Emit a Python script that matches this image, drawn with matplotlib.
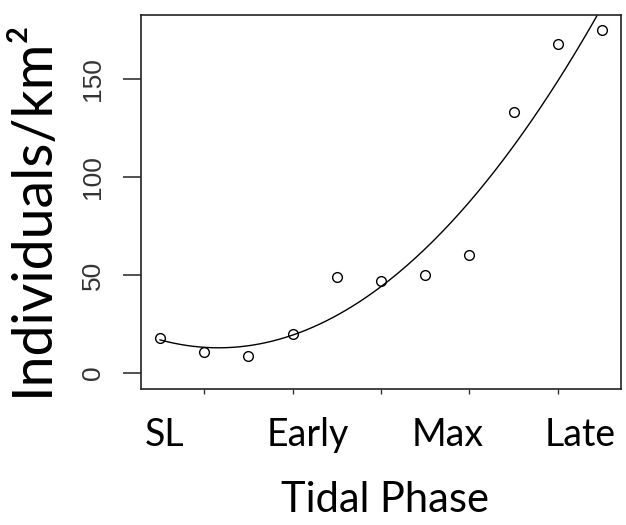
import numpy as np
import matplotlib
matplotlib.use('Agg')
import matplotlib.pyplot as plt

# Datos
phase = np.arange(1, 12)
density = [18, 10.5, 8.5, 20, 49, 47, 50, 60, 133, 168, 175]
phase_labels = ['SL', 'Early', 'Max', 'Late']
label_pos = [1.1, 4.35, 7.5, 10.5]

# Ajuste cuadratico
coef = np.polyfit(phase, density, 2)
xs = np.linspace(1, 11, 200)
ys = np.polyval(coef, xs)

fig = plt.figure(figsize=(6.26, 5.25), dpi=100)
ax = fig.add_axes([141 / 626, 1 - 389 / 525, 480 / 626, 374 / 525])

ax.plot(phase, density, 'o', mfc='none', mec='black', ms=7, mew=1.0)
ax.plot(xs, ys, color='black', lw=1.0)

ax.set_xlim(0.57, 11.43)
ax.set_ylim(-8.2, 182.7)
ax.set_xticks([2, 4, 6, 8, 10])
ax.set_xticklabels([])
ax.set_yticks([0, 50, 100, 150])
ax.set_yticklabels(['0', '50', '100', '150'], rotation=90, va='center',
                   fontsize=19, color='#333333', family='Liberation Sans')
ax.tick_params(axis='x', length=3.5, width=1.0, color='#333333')
ax.tick_params(axis='y', length=13, width=1.2, color='#333333', pad=13)
for s in ax.spines.values():
    s.set_linewidth(1.2)
    s.set_color('#222222')

# Etiquetas de fases
for lab, p in zip(phase_labels, label_pos):
    ax.text(p, -0.075, lab, transform=ax.get_xaxis_transform(), ha='center',
            va='top', fontsize=27, family='Lato')

fig.text(385 / 626, 1 - 500 / 525, 'Tidal Phase', ha='center', va='center',
         fontsize=30, family='Lato')
fig.text(32 / 626, 1 - 208 / 525, 'Individuals/km\u00b2', ha='center',
         va='center', rotation=90, fontsize=40, family='Lato')

plt.savefig('out.png', dpi=100)
